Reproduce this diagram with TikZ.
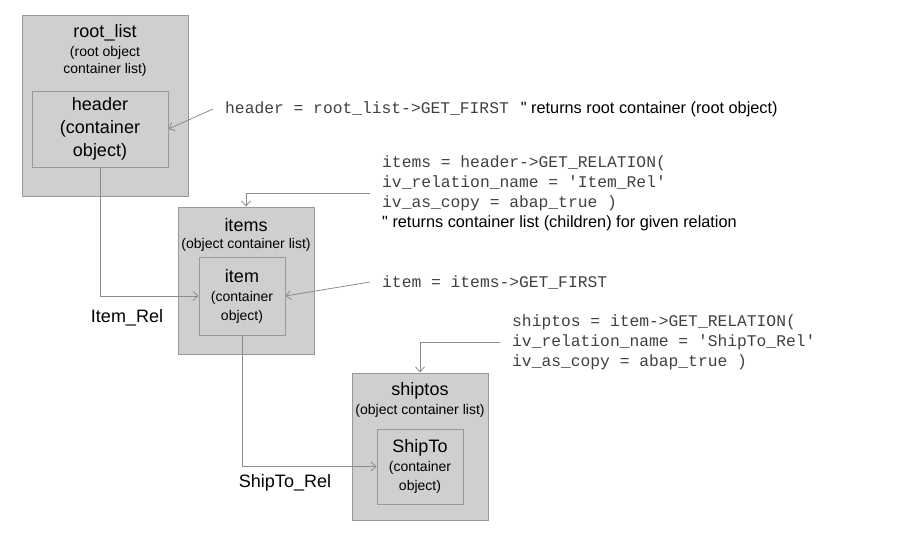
\documentclass[tikz,border=0pt]{standalone}
\usepackage{fontspec}
\setmainfont{Liberation Sans}
\setmonofont{Liberation Mono}
\newfontfamily\remfont{Liberation Sans}
\usetikzlibrary{arrows.meta, positioning}

\newcommand{\bigsize}{\fontsize{18}{22}\selectfont}
\newcommand{\notesize}{\fontsize{14}{17}\selectfont}

\begin{document}
\begin{tikzpicture}[x=1pt, y=-1pt,
  outbox/.style={rectangle, draw=black!40, line width=1pt, fill=black!19, inner sep=0pt},
  inbox/.style={rectangle, draw=black!40, line width=0.8pt, fill=black!19, inner sep=0pt,
    align=center, minimum width=86pt, font=\fontsize{14}{19}\selectfont},
  title/.style={font=\bigsize, inner sep=0pt},
  note/.style={font=\notesize, align=center, inner sep=0pt},
  code/.style={anchor=west, align=left, inner xsep=12pt, inner ysep=0pt, text=black!75,
    font=\fontsize{16.3}{20}\selectfont\ttfamily},
  rel/.style={font=\bigsize, inner sep=0pt},
  conn/.style={-{Straight Barb[length=5pt, width=9pt]}, draw=black!45, line width=0.8pt}
]
\useasboundingbox (0,0) rectangle (908,554);
% === root_list with header ===
\node[outbox, minimum width=166pt, minimum height=181pt] (rootlist) at (105,105.5) {};
\node[title] (rootlisttitle) at (105,33) {root\_list};
\node[note] (rootlistnote) at (105,61) {(root object\\container list)};
\node[inbox, minimum width=136pt, minimum height=76pt, font=\fontsize{18}{23}\selectfont] (header) at (100,129)
  {header\\(container\\object)};
% === items with item ===
\node[outbox, minimum width=136pt, minimum height=147pt] (items) at (246,280.5) {};
\node[title] (itemstitle) at (246,225) {items};
\node[note] (itemsnote) at (246,245) {(object container list)};
\node[inbox, minimum height=78pt] (item) at (242,296) {{\bigsize item}\\(container\\object)};
% === shiptos with ShipTo ===
\node[outbox, minimum width=136pt, minimum height=147pt] (shiptos) at (420,446.5) {};
\node[title] (shipstitle) at (420,391) {shiptos};
\node[note] (shipsnote) at (420,411) {(object container list)};
\node[inbox, minimum height=75pt] (shipto) at (420,466.5) {{\bigsize ShipTo}\\(container\\object)};
% === relation names ===
\node[rel] (itemrel) at (127,318) {Item\_Rel};
\node[rel] (shiptorel) at (285,483) {ShipTo\_Rel};
% === method calls ===
\node[code] (getfirst) at (213,109)
  {header = root\_list->GET\_FIRST\hspace{12pt}{\color{black}\remfont " returns root container (root object)}};
\node[code] (getitems) at (370,193)
  {items = header->GET\_RELATION(\\iv\_relation\_name = 'Item\_Rel'\\iv\_as\_copy = abap\_true )\\
   {\color{black}\remfont " returns container list (children) for given relation}};
\node[code] (getitem) at (370,282) {item = items->GET\_FIRST};
\node[code] (getshiptos) at (500,342)
  {shiptos = item->GET\_RELATION(\\iv\_relation\_name = 'ShipTo\_Rel'\\iv\_as\_copy = abap\_true )};
% === connectors ===
\draw[conn] (header.south) |- (item.west);
\draw[conn] (item.south) |- (shipto.west);
\draw[conn] (getfirst.west) -- (header.east);
\draw[conn] (getitems.west) -| (items.north);
\draw[conn] (getitem.west) -- (item.east);
\draw[conn] (getshiptos.west) -| (shiptos.north);
\end{tikzpicture}
\end{document}
